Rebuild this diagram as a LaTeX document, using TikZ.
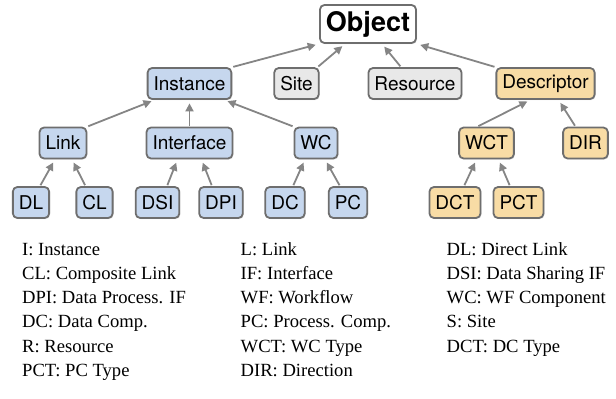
\documentclass[tikz,border=0pt]{standalone}
\usepackage{fontspec}
\setmainfont{Liberation Serif}
\setsansfont{TeX Gyre Heros}
\usetikzlibrary{arrows.meta,shadows}

\definecolor{instblue}{HTML}{C6D7EE}
\definecolor{plaingray}{HTML}{E8E8E8}
\definecolor{descorange}{HTML}{F8DCA5}
\definecolor{boxline}{HTML}{6E6E6E}
\definecolor{arrowgray}{HTML}{858585}

\begin{document}
\begin{tikzpicture}[x=1pt,y=-1pt,line join=round,>={Triangle[length=8pt,width=8pt]},
  box/.style={draw=boxline,line width=1.8pt,rounded corners=4.5pt,inner xsep=6pt,inner ysep=0pt,
    minimum height=31pt,font=\sffamily\fontsize{19}{22}\selectfont,
    drop shadow={shadow xshift=1pt,shadow yshift=-1.2pt,opacity=0.2}},
  objbox/.style={box,fill=white,minimum height=38pt,font=\sffamily\bfseries\fontsize{27}{30}\selectfont},
  instbox/.style={box,fill=instblue},
  plainbox/.style={box,fill=plaingray},
  descbox/.style={box,fill=descorange},
  isa/.style={->,draw=arrowgray,line width=1.8pt,shorten >=3.5pt,shorten <=1pt},
  legend/.style={anchor=base west,inner sep=0pt,font=\fontsize{18.6}{22}\selectfont}]
\useasboundingbox (0,0) rectangle (616,399);
% top two levels
\node[objbox] (obj) at (368,24) {Object};
\node[instbox] (inst) at (189.5,83.5) {Instance};
\node[plainbox] (site) at (296.5,83.5) {Site};
\node[plainbox] (res) at (415,83.5) {Resource};
\node[descbox] (desc) at (545.5,83.5) {Descriptor};
% third level
\node[instbox] (link) at (63,143) {Link};
\node[instbox] (iface) at (189.5,143) {Interface};
\node[instbox] (wc) at (316,143) {WC};
\node[descbox] (wct) at (486.5,143) {WCT};
\node[descbox] (dir) at (585.5,143) {DIR};
% leaves
\node[instbox] (dl) at (31,202.5) {DL};
\node[instbox] (cl) at (94.5,202.5) {CL};
\node[instbox] (dsi) at (157.5,202.5) {DSI};
\node[instbox] (dpi) at (221,202.5) {DPI};
\node[instbox] (dc) at (285,202.5) {DC};
\node[instbox] (pc) at (348,202.5) {PC};
\node[descbox] (dct) at (455,202.5) {DCT};
\node[descbox] (pct) at (518.5,202.5) {PCT};

\draw[isa] (inst.north east) -- (obj.south west);
\draw[isa] ([xshift=-2pt]site.north east) -- ([xshift=-23pt]obj.south);
\draw[isa] ([xshift=-14pt]res.north) -- ([xshift=14pt]obj.south);
\draw[isa] (desc.north west) -- (obj.south east);
\draw[isa] (link.north east) -- ([xshift=8pt]inst.south west);
\draw[isa] (iface.north) -- (inst.south);
\draw[isa] (wc.north west) -- ([xshift=-8pt]inst.south east);
\draw[isa] ([xshift=-9pt]wct.north) -- ([xshift=-15pt]desc.south);
\draw[isa] ([xshift=-10pt]dir.north) -- ([xshift=13pt]desc.south);
\draw[isa] ([xshift=9pt]dl.north) -- ([xshift=-8pt]link.south);
\draw[isa] ([xshift=-9pt]cl.north) -- ([xshift=9pt]link.south);
\draw[isa] ([xshift=9.5pt]dsi.north) -- ([xshift=-12pt]iface.south);
\draw[isa] ([xshift=-9pt]dpi.north) -- ([xshift=12pt]iface.south);
\draw[isa] ([xshift=8pt]dc.north) -- ([xshift=-11pt]wc.south);
\draw[isa] ([xshift=-8pt]pc.north) -- ([xshift=9pt]wc.south);
\draw[isa] ([xshift=9pt]dct.north) -- ([xshift=-10pt]wct.south);
\draw[isa] ([xshift=-8.5pt]pct.north) -- ([xshift=12pt]wct.south);

% abbreviations
\foreach \txt [count=\i] in {I: Instance,CL: Composite Link,DPI: Data Process. IF,DC: Data Comp.,R: Resource,PCT: PC Type}
  \node[legend] (abbra\i) at (22,{255+24.3*(\i-1)}) {\txt};
\foreach \txt [count=\i] in {L: Link,IF: Interface,WF: Workflow,PC: Process. Comp.,WCT: WC Type,DIR: Direction}
  \node[legend] (abbrb\i) at (240.5,{255+24.3*(\i-1)}) {\txt};
\foreach \txt [count=\i] in {DL: Direct Link,DSI: Data Sharing IF,WC: WF Component,S: Site,DCT: DC Type}
  \node[legend] (abbrc\i) at (446.5,{255+24.3*(\i-1)}) {\txt};
\end{tikzpicture}
\end{document}
